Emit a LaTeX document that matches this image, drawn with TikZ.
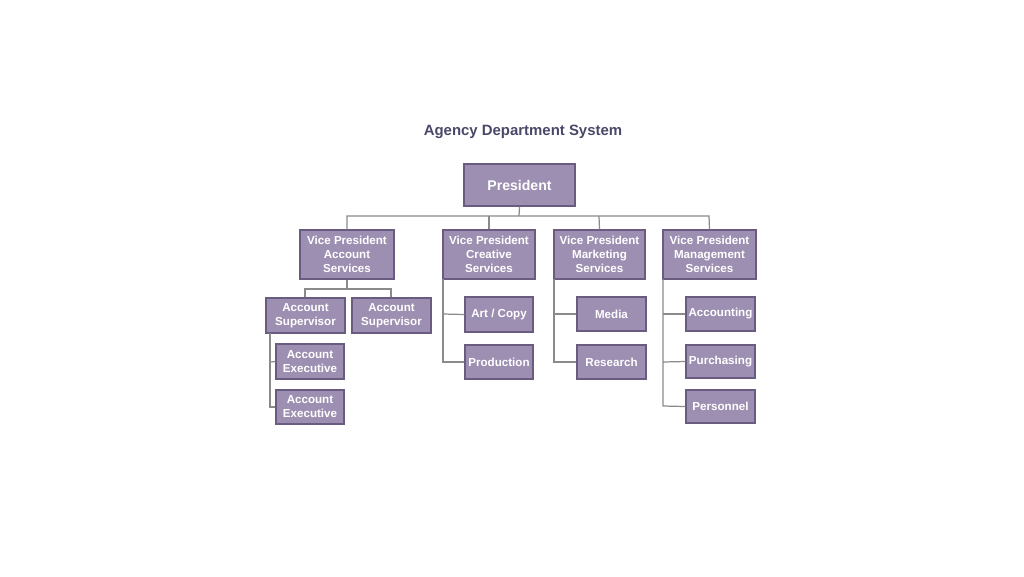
\documentclass[tikz,border=0pt]{standalone}
\usepackage{fontspec}
\setmainfont{Liberation Sans}
\begin{document}
\begin{tikzpicture}[x=0.02cm,y=-0.02cm,
  box/.style={draw=boxline,fill=boxfill,line width=0.8pt,text=white,font=\fontsize{6.6}{8}\selectfont\bfseries,align=center,inner sep=0pt},
  conn/.style={draw=connc,line width=0.7pt}]
\definecolor{boxfill}{HTML}{9D8FB1}
\definecolor{boxline}{HTML}{6A5C80}
\definecolor{connc}{HTML}{8A8A8A}
\definecolor{titlec}{HTML}{4A4868}
\useasboundingbox (0,0) rectangle (1024,576);
\newcommand{\bx}[6]{\node[box,minimum width=#4*0.02cm-#2*0.02cm,minimum height=#5*0.02cm-#3*0.02cm] (#1) at ({(#2+#4)/2},{(#3+#5)/2}) {#6};}
\node[font=\fontsize{8.5}{10}\selectfont\bfseries,text=titlec] (title) at (523,132) {Agency Department System};
% connectors first
\coordinate (h1) at (347,216); \coordinate (h2) at (489,216); \coordinate (h3) at (599,216); \coordinate (h4) at (709,216);
\coordinate (pb) at (519,216);
\coordinate (s0) at (347,289); \coordinate (s1) at (305,289); \coordinate (s2) at (391,289);
\coordinate (ra) at (270,333); \coordinate (ra1) at (270,362); \coordinate (ra2) at (270,407);
\coordinate (rc) at (443,279); \coordinate (rc1) at (443,314); \coordinate (rc2) at (443,362);
\coordinate (rm) at (554,279); \coordinate (rm1) at (554,314); \coordinate (rm2) at (554,362);
\coordinate (rg) at (663,279); \coordinate (rg1) at (663,314); \coordinate (rg2) at (663,362); \coordinate (rg3) at (663,406);
\bx{pres}{464}{164}{575}{206}{\fontsize{8}{10}\selectfont President}
\bx{vpa}{300}{230}{394}{279}{Vice President\\Account\\Services}
\bx{vpc}{443}{230}{535}{279}{Vice President\\Creative\\Services}
\bx{vpm}{554}{230}{645}{279}{Vice President\\Marketing\\Services}
\bx{vpg}{663}{230}{756}{279}{Vice President\\Management\\Services}
\bx{as1}{266}{298}{345}{333}{Account\\Supervisor}
\bx{as2}{352}{298}{431}{333}{Account\\Supervisor}
\bx{ae1}{276}{344}{344}{379}{Account\\Executive}
\bx{ae2}{276}{390}{344}{424}{Account\\Executive}
\bx{art}{465}{297}{533}{332}{Art / Copy}
\bx{prod}{465}{345}{533}{379}{Production}
\bx{media}{577}{297}{646}{331}{Media}
\bx{res}{577}{345}{646}{379}{Research}
\bx{acc}{686}{297}{755}{331}{Accounting}
\bx{pur}{686}{345}{755}{378}{Purchasing}
\bx{per}{686}{390}{755}{423}{Personnel}
\begin{scope}[on background layer/.style={}]
\draw[conn] (pres.south) -- (pb);
\draw[conn] (vpa.north) -- (h1) -- (h4) -- (vpg.north);
\draw[conn] (h2) -- (vpc.north);
\draw[conn] (h3) -- (vpm.north);
\draw[conn] (vpa.south) -- (s0);
\draw[conn] (as1.north -| s1) -- (s1) -- (s2) -- (as2.north -| s2);
\draw[conn] (ra) -- (ra2) -- (ae2.west);
\draw[conn] (ra1) -- (ae1.west);
\draw[conn] (rc) -- (rc2) -- (prod.west);
\draw[conn] (rc1) -- (art.west);
\draw[conn] (rm) -- (rm2) -- (res.west);
\draw[conn] (rm1) -- (media.west);
\draw[conn] (rg) -- (rg3) -- (per.west);
\draw[conn] (rg1) -- (acc.west);
\draw[conn] (rg2) -- (pur.west);
\end{scope}
\end{tikzpicture}
\end{document}
